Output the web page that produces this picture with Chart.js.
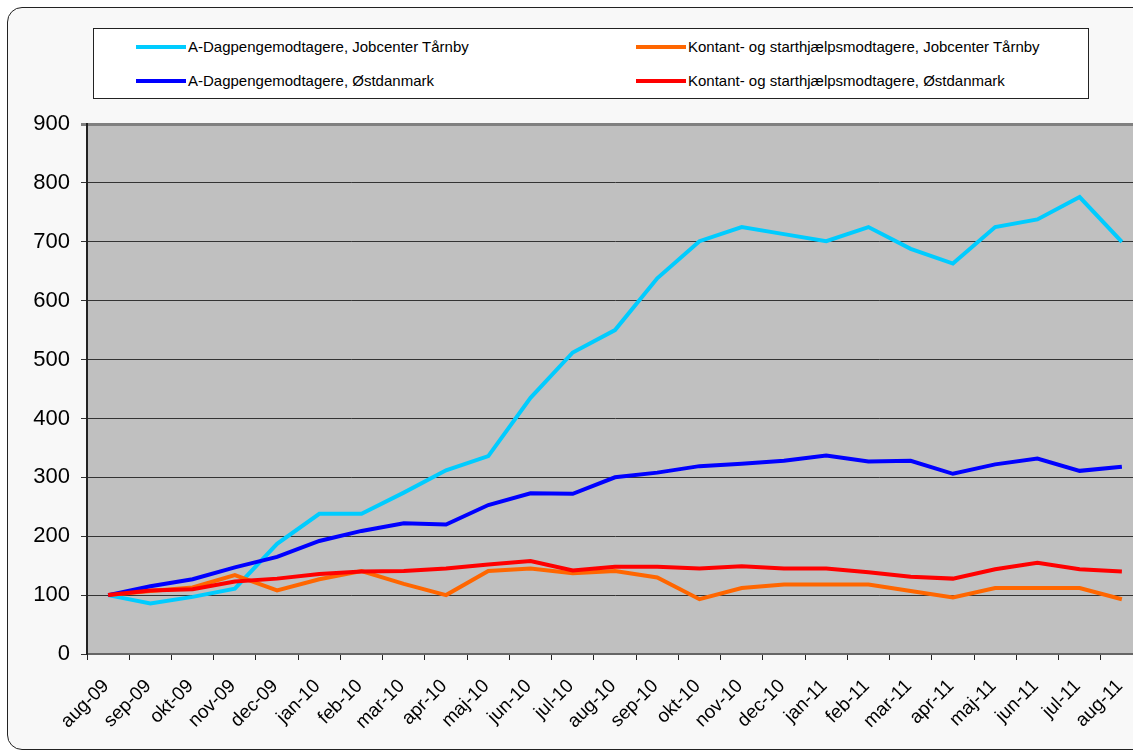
<!DOCTYPE html>
<html>
<head>
<meta charset="utf-8">
<script src="https://cdn.jsdelivr.net/npm/chart.js@4"></script>
<style>
html, body { margin: 0; padding: 0; width: 1133px; height: 756px; overflow: hidden; background: #fff; font-family: Arial, "Liberation Sans", sans-serif; }
#ramme { position: absolute; left: 7px; top: 7px; width: 1160px; height: 741px; border: 1px solid #222; border-radius: 15px; background: #f8f8f8; }
#grafico { position: absolute; left: 0; top: 0; }
#legende { position: absolute; left: 93px; top: 28px; width: 994px; height: 69px; border: 1px solid #222; background: #fff; }
.item { position: absolute; font-size: 15px; color: #000; white-space: nowrap; line-height: 16px; }
.item span { display: inline-block; width: 50px; height: 4px; vertical-align: middle; margin-right: 2px; position: relative; top: -1px; }
</style>
</head>
<body>
<div id="ramme"></div>
<canvas id="grafico" width="1160" height="756"></canvas>
<div id="legende"></div>
<script>
const maaneder = ['aug-09', 'sep-09', 'okt-09', 'nov-09', 'dec-09', 'jan-10', 'feb-10', 'mar-10', 'apr-10', 'maj-10', 'jun-10', 'jul-10', 'aug-10', 'sep-10', 'okt-10', 'nov-10', 'dec-10', 'jan-11', 'feb-11', 'mar-11', 'apr-11', 'maj-11', 'jun-11', 'jul-11', 'aug-11'];

const dagpengeTaarnby = [100, 86, 97, 111, 187, 238, 238, 274, 312, 336, 435, 512, 550, 638, 701, 725, 713, 701, 725, 688, 663, 725, 738, 776, 700];
const kontantTaarnby = [100, 107, 113, 134, 108, 127, 141, 119, 100, 141, 145, 137, 141, 130, 93, 112, 118, 118, 118, 107, 96, 112, 112, 112, 93];
const dagpengeOst = [100, 115, 127, 147, 165, 192, 209, 222, 220, 253, 273, 272, 300, 308, 319, 323, 328, 337, 327, 328, 306, 322, 332, 311, 318];
const kontantOst = [100, 108, 110, 123, 128, 136, 140, 141, 145, 152, 158, 142, 148, 148, 145, 149, 145, 145, 139, 131, 128, 144, 155, 144, 140];

const yTicks = [0, 100, 200, 300, 400, 500, 600, 700, 800, 900];

const serier = [
    { label: 'A-Dagpengemodtagere, Jobcenter Tårnby', data: dagpengeTaarnby, color: '#00CCFF', order: 3 },
    { label: 'Kontant- og starthjælpsmodtagere, Jobcenter Tårnby', data: kontantTaarnby, color: '#FF6600', order: 2 },
    { label: 'A-Dagpengemodtagere, Østdanmark', data: dagpengeOst, color: '#0000FF', order: 1 },
    { label: 'Kontant- og starthjælpsmodtagere, Østdanmark', data: kontantOst, color: '#FF0000', order: 0 }
];

const skrift = 'Arial, "Liberation Sans"';

// legend box, two columns like the original
const legende = document.querySelector('#legende');
const pos = [[42, 10], [542, 10], [42, 44], [542, 44]];
serier.forEach((s, i) => {
    const div = document.createElement('div');
    div.className = 'item';
    div.style.left = pos[i][0] + 'px';
    div.style.top = pos[i][1] + 'px';
    div.innerHTML = `<span style="background:${s.color}"></span>${s.label}`;
    legende.appendChild(div);
});

const plotBaggrund = {
    id: 'plotBaggrund',
    beforeDraw(chart) {
        const { ctx, chartArea } = chart;
        ctx.save();
        ctx.fillStyle = '#C0C0C0';
        ctx.fillRect(chartArea.left, chartArea.top, chartArea.right - chartArea.left, chartArea.bottom - chartArea.top);
        ctx.restore();
    }
};

const grafico = document.querySelector('#grafico');

new Chart(grafico, {
    type: 'line',
    data: {
        labels: maaneder,
        datasets: serier.map(s => ({
            label: s.label,
            data: s.data,
            borderColor: s.color,
            backgroundColor: s.color,
            borderWidth: 4,
            pointRadius: 0,
            tension: 0,
            order: s.order
        }))
    },
    options: {
        responsive: false,
        animation: false,
        layout: { padding: { top: 124, right: 17, left: 0, bottom: 0 } },
        plugins: {
            legend: { display: false },
            tooltip: { enabled: false }
        },
        scales: {
            x: {
                offset: true,
                afterFit: (s) => { s.height = 102; },
                grid: { offset: true, drawOnChartArea: false, drawTicks: true, tickLength: 6, color: '#222' },
                border: { color: '#666', width: 2 },
                ticks: {
                    color: '#000',
                    font: { family: skrift, size: 19 },
                    minRotation: 45,
                    maxRotation: 45,
                    autoSkip: false,
                    labelOffset: -2,
                    padding: 15
                }
            },
            y: {
                min: 0,
                max: 900,
                afterFit: (s) => { s.width = 87; },
                afterBuildTicks: (s) => { s.ticks = yTicks.map(v => ({ value: v })); },
                grid: {
                    color: (c) => c.tick && c.tick.value === 900 ? '#808080' : '#333',
                    lineWidth: (c) => c.tick && c.tick.value === 900 ? 3 : 1,
                    tickLength: 6
                },
                border: { color: '#222', width: 2 },
                ticks: {
                    color: '#000',
                    font: { family: skrift, size: 22 },
                    padding: 11
                }
            }
        }
    },
    plugins: [plotBaggrund]
});
</script>
</body>
</html>
